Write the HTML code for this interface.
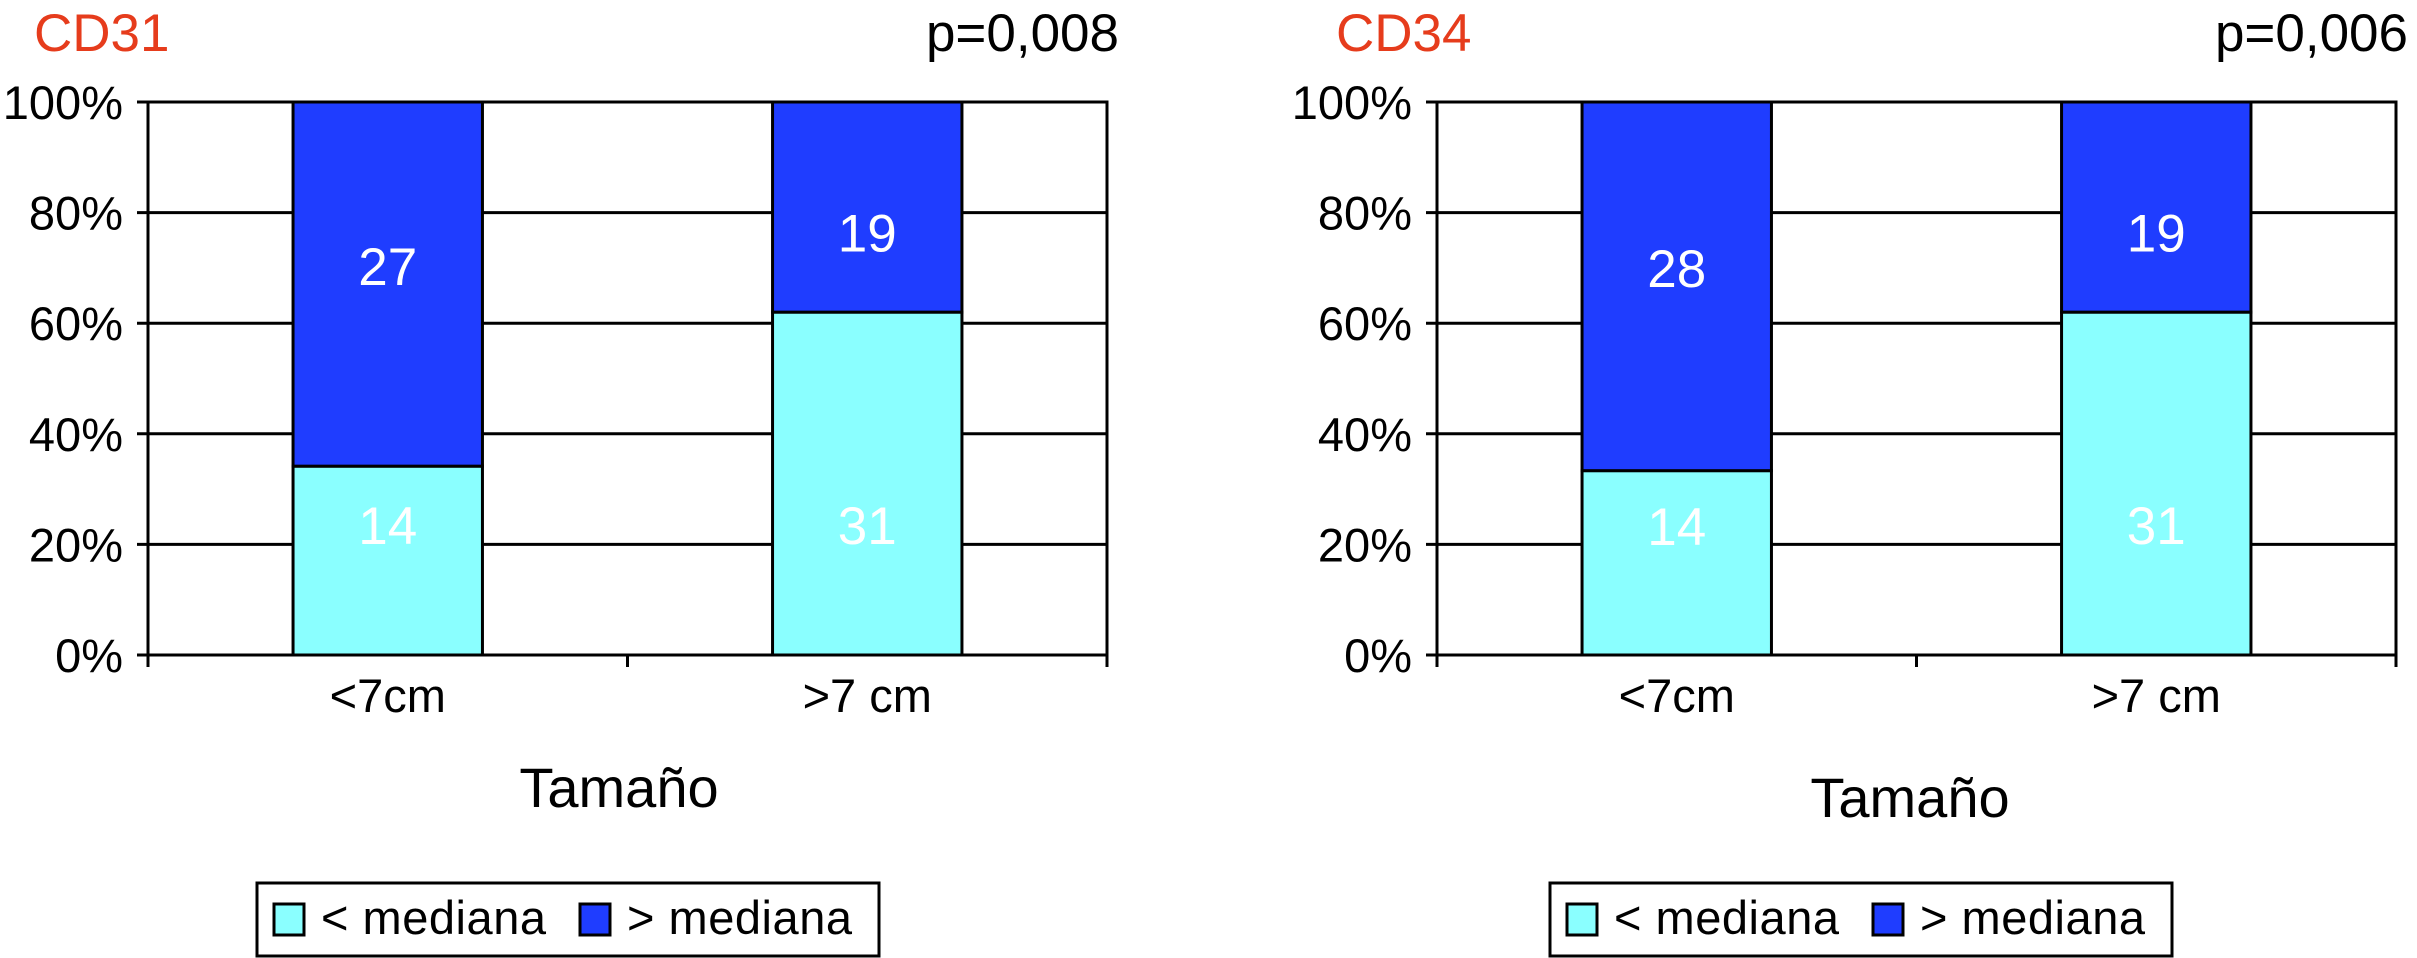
<!DOCTYPE html>
<html><head><meta charset="utf-8">
<style>
html,body{margin:0;padding:0;background:#fff;}
svg{display:block;font-family:"Liberation Sans",sans-serif;}
</style></head>
<body>
<svg id="chart" width="2417" height="958" viewBox="0 0 2417 958" xmlns="http://www.w3.org/2000/svg"></svg>
<script>
const categories = ["<7cm", ">7 cm"];
const cd31Below = [14, 31];
const cd31Above = [27, 19];
const cd34Below = [14, 31];
const cd34Above = [28, 19];
const tickLabels = ["0%", "20%", "40%", "60%", "80%", "100%"];
const tickValues = [0, 20, 40, 60, 80, 100];
const titles = ["CD31", "CD34"];
const pValues = ["p=0,008", "p=0,006"];

const NS = "http://www.w3.org/2000/svg";
const svg = document.getElementById('chart');
function mk(tag, attrs, parent, text){
  const e = document.createElementNS(NS, tag);
  for (const k in attrs) e.setAttribute(k, attrs[k]);
  if (text !== undefined) e.textContent = text;
  (parent || svg).appendChild(e);
  return e;
}
const DARK = "#1f3dff", LIGHT = "#8affff";

function drawPanel(idx, x0, x1, below, above, legX, titleX, tamX, tamY){
  const y0 = 655, yTop = 102;
  const g = mk('g', {});
  
  
  const yS = v => y0 - (v / 100) * (y0 - yTop);
  const band = (x1 - x0) / categories.length;
  const bw = band * 0.395;
  tickValues.forEach((v, i) => {
    const y = yS(v);
    const l = mk('line', {x1: x0 - 11, x2: x1, y1: y, y2: y, stroke: '#000', 'stroke-width': 3}, g);
    
    
    const t = mk('text', {x: x0 - 25, y: y + 17, 'text-anchor': 'end', 'font-size': 47, fill: '#000'}, g, tickLabels[i]);
    
    
  });
  const fr = mk('rect', {x: x0, y: yTop, width: x1 - x0, height: y0 - yTop, fill: 'none', stroke: '#000', 'stroke-width': 3}, g);
  
  
  for (let i = 0; i <= categories.length; i++) {
    const x = x0 + band * i;
    const tk = mk('line', {x1: x, x2: x, y1: y0, y2: y0 + 12, stroke: '#000', 'stroke-width': 3}, g);
    
    
  }
  categories.forEach((c, i) => {
    const cx = x0 + band * (i + 0.5);
    const tot = below[i] + above[i];
    const pb = below[i] / tot * 100;
    const r1 = mk('rect', {x: cx - bw / 2, y: yS(pb), width: bw, height: yS(0) - yS(pb), fill: LIGHT, stroke: '#000', 'stroke-width': 3}, g);
    
    
    const r2 = mk('rect', {x: cx - bw / 2, y: yS(100), width: bw, height: yS(pb) - yS(100), fill: DARK, stroke: '#000', 'stroke-width': 3}, g);
    
    
    const lightPos = Math.min(pb * 0.7, 23.5);
    const t1 = mk('text', {x: cx, y: yS(lightPos) + 19, 'text-anchor': 'middle', 'font-size': 53, fill: '#fff'}, g, below[i]);
    
    
    const darkPos = pb + (100 - pb) * (pb < 50 ? 0.55 : 0.38);
    const t2 = mk('text', {x: cx, y: yS(darkPos) + 19, 'text-anchor': 'middle', 'font-size': 53, fill: '#fff'}, g, above[i]);
    
    
    const cl = mk('text', {x: cx, y: 712, 'text-anchor': 'middle', 'font-size': 47, fill: '#000'}, g, c);
    
    
  });
  const tt = mk('text', {x: titleX, y: 51, 'font-size': 53, fill: '#e63c1c'}, g, titles[idx]);
  
  
  const pv = mk('text', {x: x1 + 12, y: 51, 'text-anchor': 'end', 'font-size': 53, fill: '#000'}, g, pValues[idx]);
  
  
  const xt = mk('text', {x: tamX, y: tamY, 'text-anchor': 'middle', 'font-size': 56, fill: '#000'}, g, 'Tamaño');
  
  
  const lg = mk('g', {}, g);
  
  
  const lb = mk('rect', {x: legX, y: 883, width: 622, height: 73, fill: '#fff', stroke: '#000', 'stroke-width': 3}, lg);
  
  
  const s1 = mk('rect', {x: legX + 17, y: 904, width: 30, height: 31, fill: LIGHT, stroke: '#000', 'stroke-width': 3}, lg);
  
  
  const l1 = mk('text', {x: legX + 64, y: 934, 'font-size': 47, fill: '#000', textLength: 225}, lg, '< mediana');
  
  
  const s2 = mk('rect', {x: legX + 323, y: 904, width: 30, height: 31, fill: DARK, stroke: '#000', 'stroke-width': 3}, lg);
  
  
  const l2 = mk('text', {x: legX + 370, y: 934, 'font-size': 47, fill: '#000', textLength: 225}, lg, '> mediana');
  
  
}
drawPanel(0, 148, 1107, cd31Below, cd31Above, 257, 34, 619, 807);
drawPanel(1, 1437, 2396, cd34Below, cd34Above, 1550, 1336, 1910, 817);
</script>
</body></html>
